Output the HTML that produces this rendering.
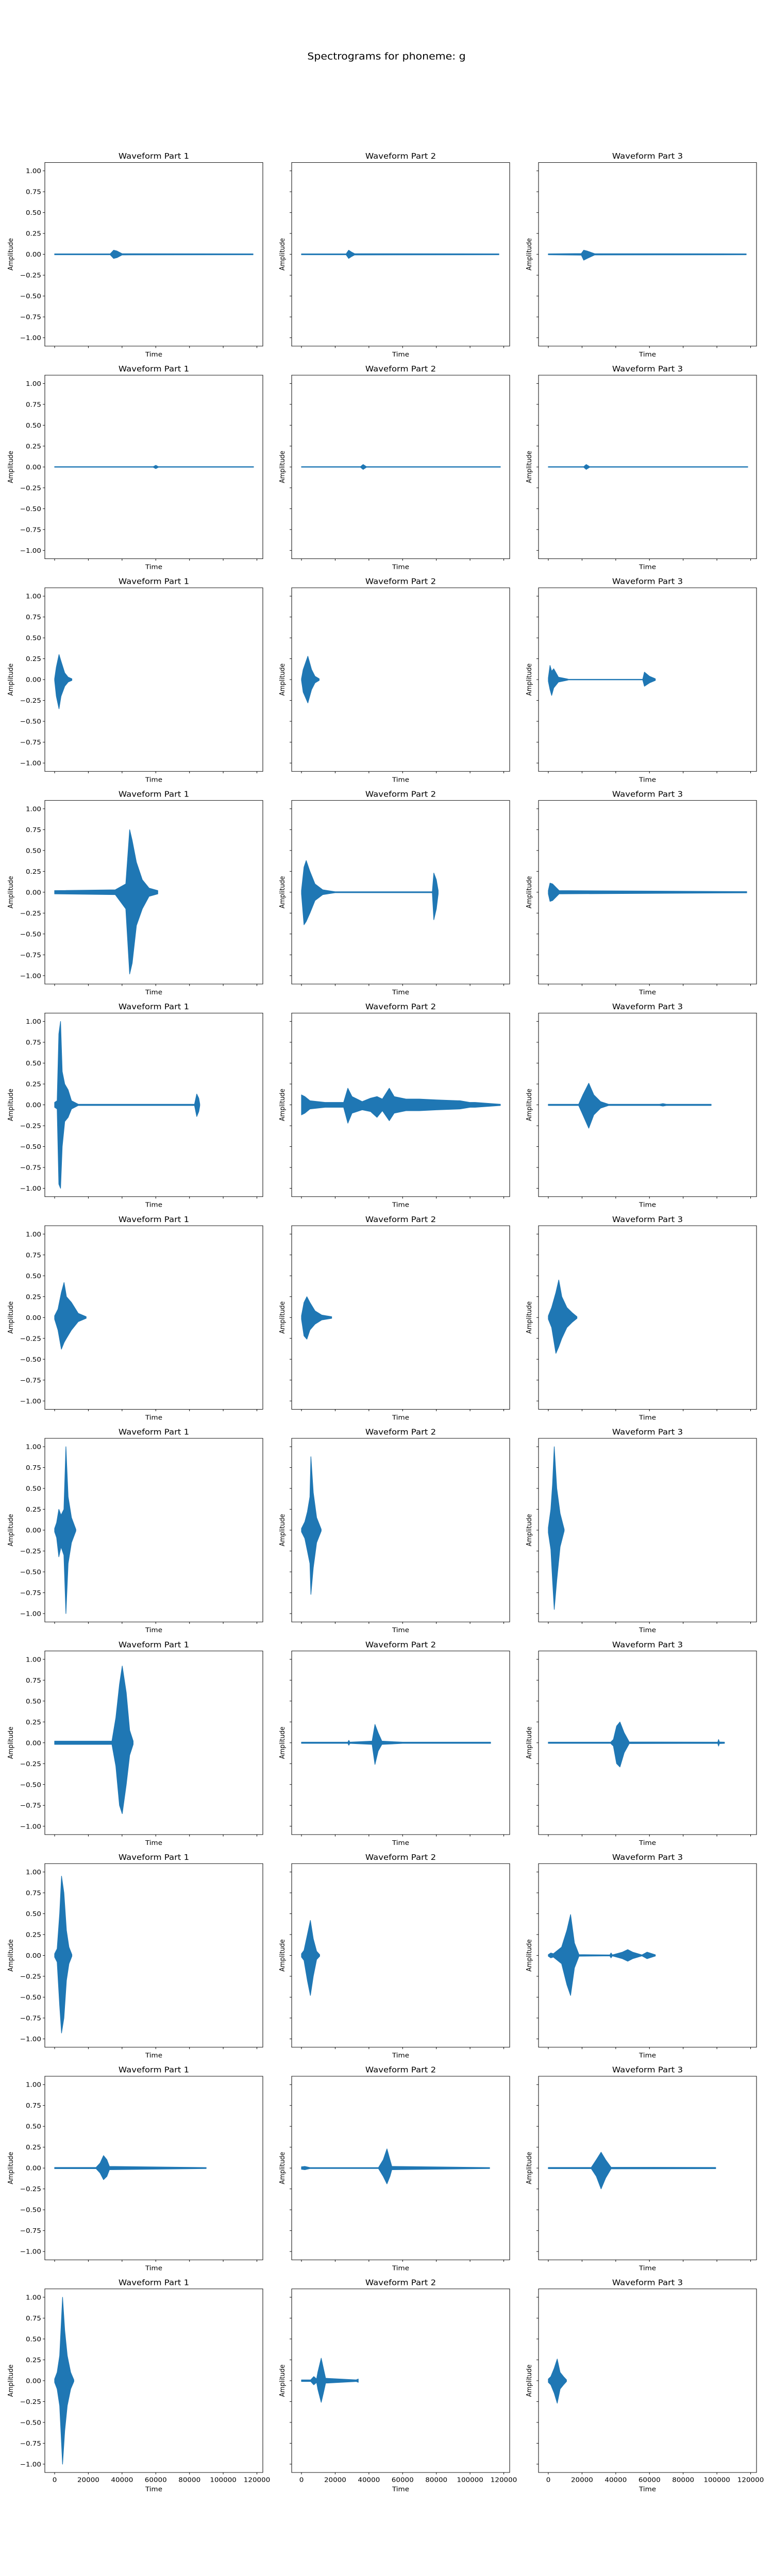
<!DOCTYPE html>
<html><head><meta charset="utf-8"><style>
html,body{margin:0;padding:0;background:#fff;width:100%;height:100%;overflow:hidden;}
svg{display:block;position:fixed;left:0;top:0;width:100vw;height:100vh;font-family:"DejaVu Sans","Liberation Sans",sans-serif;}
</style></head><body>
<svg id="fig" viewBox="0 0 1500 5500" preserveAspectRatio="none" xmlns="http://www.w3.org/2000/svg">
<rect width="1500" height="5500" fill="#fff"/>
<text x="750" y="127" font-size="20.5" text-anchor="middle" fill="#000">Spectrograms for phoneme: g</text>
</svg>
<script>
// Envelope data per panel (row-major, 3 panels per row): sample times, upper and lower amplitude
const envTimes = [
 [0,33000,35000,37000,40000,117700],
 [0,26500,28000,29500,31500,117100],
 [0,19600,21000,23000,27500,117400],
 [0,58500,60000,61500,118000],
 [0,35000,36600,38500,118000],
 [0,21000,22500,24500,118300],
 [0,1000,2600,3800,6000,8000,10250],
 [0,1000,3800,6000,8000,10500],
 [0,1000,2000,3200,6000,10800,12000,56000,57000,60000,63500],
 [0,36000,42200,44500,46000,48500,52000,56000,61200],
 [0,1500,2800,5000,8000,12600,20000,77600,78500,80000,81100],
 [0,1000,2500,6400,117700],
 [0,1500,2500,3500,4500,6000,8000,10000,14000,83000,84300,85500,86100],
 [0,2000,5000,14000,25000,27500,30000,36000,41000,44800,48000,52100,55000,62000,70000,80000,94000,100000,103000,118000],
 [0,18000,20500,24000,27000,31000,35700,66000,68000,70000,96600],
 [0,2000,4000,5600,7000,10000,14000,18700],
 [0,1500,3200,5000,8000,12000,17900],
 [0,2000,4500,6200,8000,11000,14000,17000],
 [0,1200,2500,3800,5500,6700,8000,10000,12600],
 [0,2000,3500,5000,5600,7000,9000,11700],
 [0,1500,2500,3500,5000,7000,9400],
 [0,34000,36300,38500,40100,42500,44500,46600],
 [0,27500,28100,28700,41900,43600,45500,47700,60000,112200],
 [0,37000,38600,40500,42500,45000,48000,100500,101000,101500,104500],
 [0,1500,3000,4100,5500,7000,8500,10250],
 [0,1500,3500,5300,7000,9000,10800],
 [0,1500,3000,7900,11000,13200,15500,18200,36500,37200,38000,44000,47100,50000,55500,58600,63500],
 [0,24600,27000,29000,31000,32500,89900],
 [0,2000,5000,45700,48500,50700,52500,53600,111600],
 [0,25500,28500,31300,34000,37200,99300],
 [0,1500,3000,4700,6000,7500,9500,11400],
 [0,5500,7300,9000,9700,11700,13000,14300,32500,33700],
 [0,1500,3500,5300,7000,9000,10800]
];
const envUpper = [
 [0.006,0.006,0.05,0.04,0.008,0.006],
 [0.006,0.006,0.05,0.03,0.008,0.006],
 [0.006,0.01,0.05,0.04,0.008,0.006],
 [0.004,0.004,0.02,0.004,0.004],
 [0.004,0.004,0.03,0.004,0.004],
 [0.004,0.004,0.03,0.004,0.004],
 [0.01,0.15,0.30,0.22,0.08,0.03,0.01],
 [0.01,0.12,0.28,0.12,0.04,0.01],
 [0.02,0.17,0.10,0.13,0.03,0.01,0.004,0.004,0.09,0.04,0.01],
 [0.02,0.03,0.10,0.75,0.62,0.36,0.15,0.05,0.02],
 [0.02,0.30,0.38,0.25,0.10,0.03,0.006,0.006,0.23,0.15,0.02],
 [0.02,0.11,0.10,0.02,0.008],
 [0.03,0.05,0.85,1.0,0.40,0.25,0.18,0.05,0.008,0.008,0.13,0.08,0.01],
 [0.12,0.10,0.05,0.03,0.03,0.20,0.10,0.04,0.08,0.10,0.07,0.20,0.10,0.07,0.07,0.06,0.05,0.03,0.03,0.008],
 [0.008,0.008,0.12,0.26,0.12,0.04,0.008,0.008,0.015,0.008,0.008],
 [0.02,0.10,0.30,0.42,0.25,0.18,0.05,0.01],
 [0.02,0.18,0.25,0.18,0.08,0.03,0.01],
 [0.02,0.12,0.30,0.45,0.25,0.12,0.06,0.01],
 [0.02,0.09,0.25,0.18,0.25,1.0,0.40,0.15,0.01],
 [0.02,0.10,0.22,0.40,0.88,0.45,0.15,0.01],
 [0.03,0.25,0.55,1.0,0.50,0.20,0.01],
 [0.02,0.02,0.30,0.70,0.92,0.60,0.15,0.02],
 [0.008,0.008,0.03,0.008,0.02,0.22,0.12,0.02,0.008,0.008],
 [0.008,0.008,0.04,0.20,0.25,0.12,0.01,0.008,0.04,0.01,0.008],
 [0.02,0.08,0.50,0.95,0.75,0.30,0.10,0.01],
 [0.02,0.06,0.25,0.42,0.20,0.05,0.01],
 [0.01,0.03,0.02,0.10,0.30,0.49,0.15,0.01,0.006,0.03,0.006,0.04,0.07,0.04,0.006,0.04,0.008],
 [0.008,0.008,0.06,0.15,0.10,0.02,0.006],
 [0.015,0.02,0.006,0.006,0.10,0.23,0.10,0.02,0.006],
 [0.008,0.008,0.10,0.19,0.10,0.01,0.008],
 [0.02,0.10,0.30,1.0,0.60,0.30,0.10,0.01],
 [0.01,0.01,0.05,0.02,0.10,0.27,0.15,0.03,0.01,0.02],
 [0.02,0.05,0.15,0.26,0.10,0.05,0.01]
];
const envLower = [
 [-0.006,-0.006,-0.05,-0.04,-0.008,-0.006],
 [-0.006,-0.006,-0.05,-0.03,-0.008,-0.006],
 [-0.006,-0.01,-0.07,-0.05,-0.008,-0.006],
 [-0.004,-0.004,-0.02,-0.004,-0.004],
 [-0.004,-0.004,-0.03,-0.004,-0.004],
 [-0.004,-0.004,-0.03,-0.004,-0.004],
 [-0.01,-0.20,-0.35,-0.20,-0.08,-0.03,-0.01],
 [-0.01,-0.15,-0.28,-0.12,-0.04,-0.01],
 [-0.02,-0.12,-0.19,-0.10,-0.03,-0.01,-0.004,-0.004,-0.08,-0.04,-0.01],
 [-0.02,-0.03,-0.20,-0.98,-0.85,-0.40,-0.20,-0.05,-0.02],
 [-0.02,-0.39,-0.35,-0.25,-0.10,-0.03,-0.006,-0.006,-0.33,-0.20,-0.02],
 [-0.02,-0.11,-0.10,-0.02,-0.008],
 [-0.03,-0.05,-0.95,-1.0,-0.50,-0.20,-0.15,-0.05,-0.008,-0.008,-0.14,-0.08,-0.01],
 [-0.12,-0.10,-0.05,-0.03,-0.03,-0.22,-0.10,-0.06,-0.08,-0.15,-0.07,-0.19,-0.10,-0.07,-0.07,-0.06,-0.05,-0.03,-0.03,-0.008],
 [-0.008,-0.008,-0.12,-0.28,-0.12,-0.04,-0.008,-0.008,-0.015,-0.008,-0.008],
 [-0.02,-0.15,-0.38,-0.30,-0.25,-0.15,-0.05,-0.01],
 [-0.02,-0.22,-0.26,-0.15,-0.08,-0.03,-0.01],
 [-0.02,-0.12,-0.43,-0.35,-0.25,-0.12,-0.06,-0.01],
 [-0.02,-0.09,-0.32,-0.20,-0.30,-1.0,-0.40,-0.15,-0.01],
 [-0.02,-0.10,-0.25,-0.40,-0.77,-0.45,-0.15,-0.01],
 [-0.03,-0.23,-0.60,-0.95,-0.60,-0.20,-0.01],
 [-0.02,-0.02,-0.28,-0.75,-0.85,-0.50,-0.15,-0.02],
 [-0.008,-0.008,-0.03,-0.008,-0.02,-0.26,-0.10,-0.02,-0.008,-0.008],
 [-0.008,-0.008,-0.04,-0.25,-0.29,-0.12,-0.01,-0.008,-0.04,-0.01,-0.008],
 [-0.02,-0.08,-0.60,-0.93,-0.75,-0.30,-0.10,-0.01],
 [-0.02,-0.06,-0.30,-0.48,-0.25,-0.05,-0.01],
 [-0.01,-0.03,-0.02,-0.10,-0.35,-0.48,-0.15,-0.01,-0.006,-0.03,-0.006,-0.04,-0.07,-0.04,-0.006,-0.04,-0.008],
 [-0.008,-0.008,-0.06,-0.14,-0.10,-0.02,-0.006],
 [-0.015,-0.02,-0.006,-0.006,-0.10,-0.19,-0.10,-0.02,-0.006],
 [-0.008,-0.008,-0.10,-0.25,-0.12,-0.01,-0.008],
 [-0.02,-0.10,-0.30,-1.0,-0.60,-0.30,-0.10,-0.01],
 [-0.01,-0.01,-0.05,-0.02,-0.10,-0.26,-0.15,-0.03,-0.01,-0.02],
 [-0.02,-0.05,-0.15,-0.27,-0.10,-0.05,-0.01]
];
const yTickValues = [1.0,0.75,0.5,0.25,0,-0.25,-0.5,-0.75,-1.0];
const yTickLabels = ["1.00","0.75","0.50","0.25","0.00","\u22120.25","\u22120.50","\u22120.75","\u22121.00"];
const xTickValues = [0,20000,40000,60000,80000,100000,120000];
const xTickLabels = ["0","20000","40000","60000","80000","100000","120000"];

const NS = "http://www.w3.org/2000/svg";
const svg = document.getElementById('fig');
const colLeft = [87,566,1045], axW = 423, axH = 392, top0 = 347, rowPitch = 454;
const xMin = -5810, xMax = 123500, yMin = -1.1, yMax = 1.1;
const nRows = 11;
function mk(tag, attrs, parent){ const e=document.createElementNS(NS,tag); for(const k in attrs) e.setAttribute(k,attrs[k]); (parent||svg).appendChild(e); return e; }

for(let r=0;r<nRows;r++){
  for(let c=0;c<3;c++){
    const idx=r*3+c, L=colLeft[c], T=top0+r*rowPitch;
    const sx=t=>L+(t-xMin)/(xMax-xMin)*axW;
    const sy=v=>T+(yMax-v)/(yMax-yMin)*axH;
    const g=mk('g',{});
    
    
    const ts=envTimes[idx], up=envUpper[idx], lo=envLower[idx];
    let pts=[];
    for(let i=0;i<ts.length;i++) pts.push(sx(ts[i]).toFixed(1)+','+sy(up[i]).toFixed(1));
    for(let i=ts.length-1;i>=0;i--) pts.push(sx(ts[i]).toFixed(1)+','+sy(lo[i]).toFixed(1));
    const wf=mk('polygon',{points:pts.join(' '),fill:'#1f77b4',stroke:'#1f77b4','stroke-width':'1.2','stroke-linejoin':'round'},g);
    
    
    const fr=mk('rect',{x:L,y:T,width:axW,height:axH,fill:'none',stroke:'#000','stroke-width':'1'},g);
    
    
    const tt=mk('text',{x:L+axW/2,y:T-8,'font-size':'16.5','text-anchor':'middle',fill:'#000'},g);
    
    
    tt.textContent='Waveform Part '+(c+1);
    yTickValues.forEach((v,i)=>{
      const y=sy(v);
      mk('line',{x1:L-4,x2:L,y1:y,y2:y,stroke:'#000','stroke-width':'1'},g);
      if(c===0){
        const tl=mk('text',{x:L-7,y:y+5,'font-size':'13.5','text-anchor':'end',fill:'#000'},g);
        
        
        tl.textContent=yTickLabels[i];
      }
    });
    xTickValues.forEach((v,i)=>{
      const x=sx(v);
      mk('line',{x1:x,x2:x,y1:T+axH,y2:T+axH+4,stroke:'#000','stroke-width':'1'},g);
      if(r===nRows-1){
        const tl=mk('text',{x:x,y:T+axH+20,'font-size':'13.5','text-anchor':'middle',fill:'#000'},g);
        
        
        tl.textContent=xTickLabels[i];
      }
    });
    const xl=mk('text',{x:L+axW/2,y:T+axH+(r===nRows-1?40:22),'font-size':'13.5','text-anchor':'middle',fill:'#000'},g);
    
    
    xl.textContent='Time';
    const ax=(c===0?L-67:L-19), ay=T+axH/2;
    const yl=mk('text',{x:ax+5,y:ay,'font-size':'13.5','text-anchor':'middle',fill:'#000',transform:'rotate(-90 '+(ax+5)+' '+ay+')'},g);
    
    
    yl.textContent='Amplitude';
  }
}
</script>
</body></html>
